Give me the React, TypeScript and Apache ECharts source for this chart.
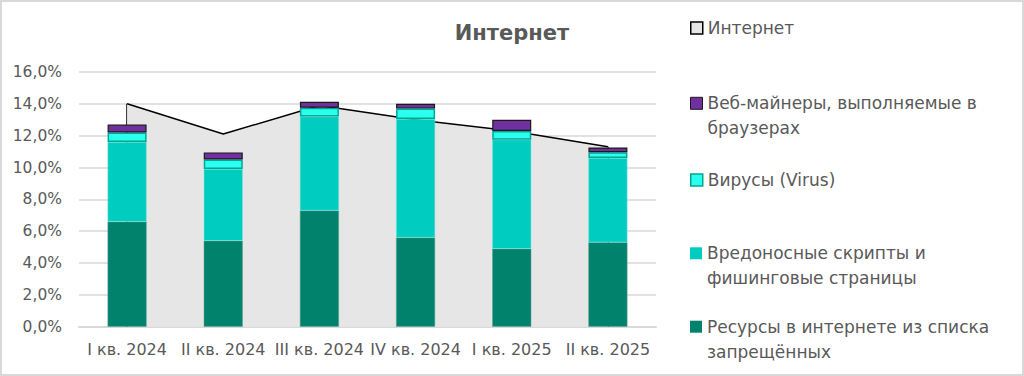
import React, { useEffect, useRef } from "react";
import * as echarts from "echarts";

const categories = ["I кв. 2024", "II кв. 2024", "III кв. 2024", "IV кв. 2024", "I кв. 2025", "II кв. 2025"];
const internet = [14.0, 12.1, 13.9, 13.0, 12.3, 11.3];
const blocked = [6.6, 5.4, 7.3, 5.6, 4.9, 5.3];
const scripts = [5.0, 4.5, 5.9, 7.45, 6.85, 5.3];
const viruses = [0.6, 0.6, 0.55, 0.65, 0.55, 0.36];
const miners = [0.5, 0.45, 0.38, 0.3, 0.7, 0.3];
const yTicks = { min: 0, max: 16, interval: 2 };

const FONT = "DejaVu Sans";
const GRAY = "#595959";

const NAMES = {
  internet: "Интернет",
  miners: "Веб-майнеры, выполняемые в браузерах",
  viruses: "Вирусы (Virus)",
  scripts: "Вредоносные скрипты и фишинговые страницы",
  blocked: "Ресурсы в интернете из списка запрещённых",
};

const COLORS = {
  internetFill: "#e6e6e6",
  miners: "#7030a0",
  viruses: "#2bfff0",
  virusesBorder: "#00a892",
  scripts: "#00ccbf",
  blocked: "#00826c",
};

function legendItem(name: string, top: number, two: boolean, label: string, itemStyle: any) {
  return {
    show: true,
    left: 690,
    top,
    padding: 0,
    orient: "vertical",
    itemWidth: 12,
    itemHeight: 12,
    icon: "rect",
    selectedMode: false,
    data: [{ name, icon: "rect", itemStyle }],
    formatter: () => (two ? "\u00a0\n" + label : label),
    textStyle: {
      fontFamily: FONT,
      fontSize: 17,
      color: GRAY,
      lineHeight: 25,
    },
  };
}

export default function App() {
  const ref = useRef<HTMLDivElement>(null);
  useEffect(() => {
    if (!ref.current) return;
    const chart = echarts.init(ref.current, undefined, { renderer: "svg" });
    const option: any = {
      animation: false,
      backgroundColor: "#ffffff",
      textStyle: { fontFamily: FONT },
      title: {
        text: "Интернет",
        left: "center",
        top: 21,
        padding: 0,
        textStyle: { fontFamily: FONT, fontSize: 21, fontWeight: "bold", color: GRAY, lineHeight: 24 },
      },
      legend: [
        legendItem(NAMES.internet, 15.5, false, "Интернет", {
          color: COLORS.internetFill,
          borderColor: "#000",
          borderWidth: 1.5,
        }),
        legendItem(NAMES.miners, 65.8, true, "Веб-майнеры, выполняемые в\nбраузерах", {
          color: COLORS.miners,
          borderColor: "#1a1a1a",
          borderWidth: 1,
        }),
        legendItem(NAMES.viruses, 167.5, false, "Вирусы (Virus)", {
          color: COLORS.viruses,
          borderColor: COLORS.virusesBorder,
          borderWidth: 1.5,
        }),
        legendItem(NAMES.scripts, 215.8, true, "Вредоносные скрипты и\nфишинговые страницы", {
          color: COLORS.scripts,
          borderWidth: 0,
        }),
        legendItem(NAMES.blocked, 289.2, true, "Ресурсы в интернете из списка\nзапрещённых", {
          color: COLORS.blocked,
          borderWidth: 0,
        }),
      ],
      grid: { left: 79, right: 368, top: 72, bottom: 49.3, containLabel: false },
      xAxis: {
        type: "category",
        data: categories,
        boundaryGap: true,
        axisLine: { show: true, lineStyle: { color: "#d9d9d9", width: 2 } },
        axisTick: { show: false },
        axisLabel: { fontFamily: FONT, fontSize: 16, color: GRAY, margin: 15, interval: 0 },
      },
      yAxis: {
        type: "value",
        min: yTicks.min,
        max: yTicks.max,
        interval: yTicks.interval,
        axisLine: { show: false },
        axisTick: { show: false },
        splitLine: { lineStyle: { color: "#d9d9d9", width: 1.5 } },
        axisLabel: {
          fontFamily: FONT,
          fontSize: 15.5,
          color: GRAY,
          margin: 17,
          formatter: (v: number) => v.toFixed(1).replace(".", ",") + "%",
        },
      },
      graphic: [
        {
          type: "rect",
          shape: { x: 1, y: 1, width: 1022, height: 374 },
          style: { fill: "none", stroke: "#d9d9d9", lineWidth: 2 },
          silent: true,
        },
      ],
      series: [
        {
          name: NAMES.internet,
          type: "line",
          data: internet,
          symbol: "none",
          z: 1,
          lineStyle: { color: "#000", width: 1.5 },
          itemStyle: { color: COLORS.internetFill },
          areaStyle: { color: COLORS.internetFill, opacity: 1 },
          markLine: {
            silent: true,
            z: 1,
            symbol: ["none", "none"],
            label: { show: false },
            lineStyle: { color: "#000", width: 1.5, type: "solid" },
            data: [
              [{ coord: [0, 0] }, { coord: [0, internet[0]] }],
              [{ coord: [categories.length - 1, 0] }, { coord: [categories.length - 1, internet[internet.length - 1]] }],
            ],
          },
        },
        {
          name: NAMES.blocked,
          type: "bar",
          stack: "s",
          barWidth: 39,
          z: 3,
          data: blocked,
          itemStyle: { color: COLORS.blocked, borderColor: "#5aa596", borderWidth: 0.5 },
        },
        {
          name: NAMES.scripts,
          type: "bar",
          stack: "s",
          z: 3,
          data: scripts,
          itemStyle: { color: COLORS.scripts, borderColor: "#7fe5de", borderWidth: 0.5 },
        },
        {
          name: NAMES.viruses,
          type: "bar",
          stack: "s",
          z: 3,
          data: viruses,
          itemStyle: { color: COLORS.viruses, borderColor: COLORS.virusesBorder, borderWidth: 1.5 },
        },
        {
          name: NAMES.miners,
          type: "bar",
          stack: "s",
          z: 3,
          data: miners,
          itemStyle: { color: COLORS.miners, borderColor: "#1a1a1a", borderWidth: 1.2 },
        },
      ],
    };
    chart.setOption(option);
    return () => chart.dispose();
  }, []);
  return <div ref={ref} style={{ position: "absolute", left: 0, top: 0, width: 1024, height: 376 }} />;
}
